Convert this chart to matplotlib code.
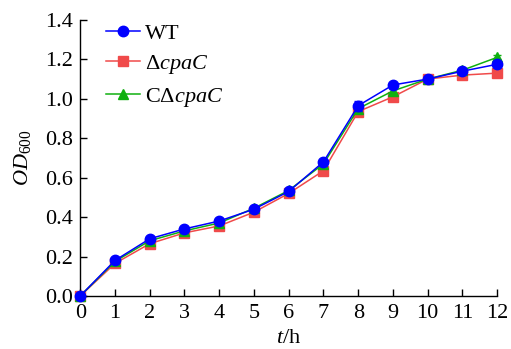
import matplotlib
matplotlib.use("Agg")
import matplotlib.pyplot as plt
from matplotlib.lines import Line2D

plt.rcParams['font.family'] = ['Liberation Serif', 'DejaVu Serif']
plt.rcParams['mathtext.fontset'] = 'custom'
plt.rcParams['mathtext.rm'] = 'Liberation Serif'
plt.rcParams['mathtext.it'] = 'Liberation Serif:italic'
plt.rcParams['mathtext.bf'] = 'Liberation Serif:bold'

hours = [0, 1, 2, 3, 4, 5, 6, 7, 8, 9, 10, 11, 12]
wt = [0.0, 0.18, 0.29, 0.34, 0.38, 0.44, 0.53, 0.68, 0.965, 1.07, 1.10, 1.14, 1.175]
wt_err = [0, 0.01, 0.01, 0.01, 0.01, 0.01, 0.01, 0.01, 0.025, 0.01, 0.01, 0.01, 0.01]
dcpac = [0.0, 0.165, 0.265, 0.32, 0.355, 0.425, 0.52, 0.635, 0.935, 1.01, 1.10, 1.12, 1.13]
dcpac_err = [0, 0.01, 0.01, 0.01, 0.01, 0.01, 0.01, 0.01, 0.015, 0.01, 0.01, 0.01, 0.01]
cdcpac = [0.0, 0.175, 0.28, 0.33, 0.37, 0.445, 0.535, 0.67, 0.95, 1.04, 1.10, 1.145, 1.21]
cdcpac_err = [0, 0.01, 0.01, 0.01, 0.01, 0.01, 0.01, 0.01, 0.015, 0.01, 0.01, 0.01, 0.01]

labels = ['WT', r'$\Delta cpaC$', r'C$\Delta cpaC$']
colors = ['#0000ff', '#f04a4a', '#10b010']
markers = ['o', 's', '^']
sizes = [7.5, 7, 7]

fig = plt.figure(figsize=(5.11, 3.49), dpi=100)
ax = fig.add_axes([0.157, 0.152, 0.816, 0.791])

series = [wt, dcpac, cdcpac]
errs = [wt_err, dcpac_err, cdcpac_err]
zorders = [4, 2, 3]
for ys, es, c, m, s, z in zip(series, errs, colors, markers, sizes, zorders):
    ax.errorbar(hours, ys, yerr=es, color=c, marker=m, ms=s, lw=1.1,
                capsize=3, elinewidth=1, zorder=z, clip_on=False)

ax.set_xlim(0, 12)
ax.set_ylim(0, 1.4)
ax.set_xticks(hours)
ax.set_yticks([0.0, 0.2, 0.4, 0.6, 0.8, 1.0, 1.2, 1.4])
ax.set_yticklabels(['0.0', '0.2', '0.4', '0.6', '0.8', '1.0', '1.2', '1.4'])
for s in ['top', 'right']:
    ax.spines[s].set_visible(False)
for s in ['left', 'bottom']:
    ax.spines[s].set_linewidth(1.0)
ax.tick_params(direction='in', length=5, width=1, labelsize=16)
ax.tick_params(axis='x', pad=6)
ax.tick_params(axis='y', pad=5)
ax.set_xlabel(r'$t$/h', fontsize=16, labelpad=4)
ax.set_ylabel(r'$OD_{600}$', fontsize=16, labelpad=9)
for l in ax.get_xticklabels() + ax.get_yticklabels():
    l.set_clip_on(False)

handles = [Line2D([], [], color=c, marker=m, ms=s, lw=1.1)
           for c, m, s in zip(colors, markers, sizes)]
ax.legend(handles, labels, loc='upper left',
          bbox_to_anchor=(0.015, 1.06), frameon=False, fontsize=16,
          handlelength=1.5, handletextpad=0.25, labelspacing=0.42)

fig.savefig('out.png', dpi=100)
